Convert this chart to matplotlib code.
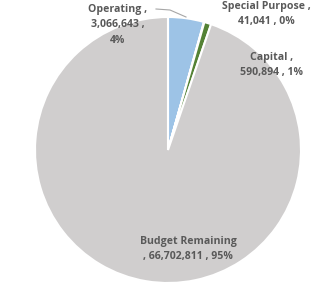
import matplotlib
matplotlib.use("Agg")
import matplotlib.pyplot as plt

categories = ["Operating", "Special Purpose", "Capital", "Budget Remaining"]
values = [3066643, 41041, 590894, 66702811]
colors = ["#9DC3E6", "#D0CECE", "#548235", "#D0CECE"]

W, H = 312, 291
fig = plt.figure(figsize=(W / 100, H / 100), dpi=100)
ax = fig.add_axes([0, 0, 1, 1])

cx, cy, r = 168, H - 150, 133
ax.pie(values, colors=colors, startangle=90, counterclock=False,
       center=(cx, cy), radius=r, frame=True,
       wedgeprops=dict(edgecolor="white", linewidth=1.5))
ax.set_xlim(0, W)
ax.set_ylim(0, H)
ax.axis("off")

total = sum(values)
pct = [round(v / total * 100) for v in values]
txt = dict(fontsize=7.6, fontweight="bold", color="#595959", family="Open Sans",
           ha="center", va="center", linespacing=1.6)

ax.text(118, H - 25, f"{categories[0]} ,\n{values[0]:,} ,\n{pct[0]}%", **txt)
ax.text(266, H - 14, f"{categories[1]} ,\n{values[1]:,} , {pct[1]}%", **txt)
ax.text(272, H - 65, f"{categories[2]} ,\n{values[2]:,} , {pct[2]}%", **txt)
ax.text(188, H - 249, f"{categories[3]}\n, {values[3]:,} , {pct[3]}%", **txt)
ax.plot([156, 170, 186], [H - 9, H - 10, H - 17], color="#A6A6A6", lw=0.8)

fig.savefig("out.png", dpi=100)
